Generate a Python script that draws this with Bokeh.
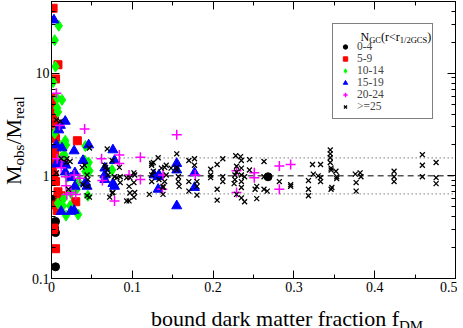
import numpy as np
from bokeh.plotting import figure
from bokeh.layouts import row, column
from bokeh.models import (FixedTicker, LinearAxis, LogAxis, NumeralTickFormatter,
                          Label, Legend, LegendItem, Div)
from bokeh.embed import file_html
from bokeh.resources import INLINE

# ---------------- data ----------------
group_labels = ["0-4", "5-9", "10-14", "15-19", "20-24", ">=25"]

x_0_4 = [0.004, 0.005, 0.004, 0.005, 0.005, 0.268]
y_0_4 = [0.60, 0.36, 0.31, 0.28, 0.13, 0.98]

x_5_9 = [0.002, 0.008, 0.005, 0.001, 0.002, 0.002, 0.002, 0.003, 0.004, 0.005,
         0.032, 0.003, 0.004, 0.004, 0.001, 0.003, 0.005, 0.002, 0.008, 0.012,
         0.010, 0.006, 0.007, 0.030, 0.003, 0.005, 0.002]
y_5_9 = [43, 12.1, 8.8, 5.7, 5.1, 4.4, 3.9, 3.2, 2.6, 2.3,
         2.2, 1.8, 1.6, 1.4, 1.2, 1.02, 0.88, 0.95, 0.70, 0.64,
         0.57, 0.52, 0.46, 0.56, 0.31, 0.195, 0.30]

x_10_14 = [0.009, 0.004, 0.005, 0.002, 0.007, 0.013, 0.007, 0.008, 0.004, 0.017,
           0.018, 0.011, 0.042, 0.012, 0.016, 0.041, 0.046, 0.042, 0.047, 0.075,
           0.033, 0.030, 0.031, 0.024, 0.045, 0.015, 0.008, 0.014, 0.023, 0.018,
           0.033, 0.020]
y_10_14 = [29, 21, 11.6, 8.2, 5.7, 5.5, 4.6, 4.2, 2.6, 2.2,
           2.0, 1.95, 1.95, 1.5, 1.6, 1.41, 1.35, 1.10, 1.12, 1.14,
           0.88, 0.80, 0.74, 0.68, 0.64, 0.60, 0.54, 0.51, 0.51, 0.41,
           0.42, 0.98]

x_15_19 = [0.003, 0.017, 0.011, 0.009, 0.006, 0.013, 0.028, 0.046, 0.076, 0.011,
           0.006, 0.018, 0.039, 0.078, 0.029, 0.017, 0.024, 0.029, 0.044, 0.042,
           0.066, 0.066, 0.066, 0.076, 0.078, 0.028, 0.012, 0.024, 0.132, 0.132,
           0.133, 0.155, 0.155, 0.155, 0.177, 0.177, 0.127]
y_15_19 = [33, 3.4, 3.1, 2.8, 2.0, 1.87, 1.75, 2.0, 1.79, 1.35,
           1.30, 1.27, 1.41, 1.41, 1.07, 1.09, 0.96, 0.79, 0.79, 0.86,
           1.19, 1.02, 0.92, 0.84, 0.79, 0.46, 0.45, 0.45, 0.98, 0.74,
           1.02, 1.32, 1.14, 0.51, 1.07, 0.77, 1.02]

x_20_24 = [0.006, 0.041, 0.010, 0.155, 0.062, 0.084, 0.110, 0.084, 0.096, 0.110,
           0.063, 0.078, 0.024, 0.018, 0.138, 0.137, 0.178, 0.229, 0.229, 0.251,
           0.251, 0.282, 0.296, 0.282, 0.007, 0.013, 0.018, 0.028, 0.019, 0.030,
           0.012, 0.035]
y_20_24 = [6.4, 2.87, 3.1, 2.52, 1.47, 1.6, 1.52, 1.32, 1.02, 0.92,
           0.90, 0.57, 0.69, 0.80, 1.02, 0.74, 1.02, 1.12, 0.69, 1.07,
           0.96, 1.25, 1.29, 0.74, 1.47, 1.41, 0.98, 1.02, 0.66, 0.66,
           1.2, 0.95]

x_25_right = [0.132, 0.142, 0.148, 0.136, 0.140, 0.138, 0.138, 0.155, 0.155, 0.155,
              0.157, 0.157, 0.158, 0.170, 0.177, 0.177, 0.170, 0.170, 0.180, 0.180,
              0.180, 0.197, 0.197, 0.197, 0.205, 0.205, 0.205, 0.212, 0.212, 0.212,
              0.228, 0.229, 0.229, 0.227, 0.227, 0.226, 0.229, 0.234, 0.235, 0.235,
              0.235, 0.239, 0.235, 0.235, 0.235, 0.239, 0.245, 0.245, 0.252, 0.254,
              0.254, 0.263, 0.263, 0.263, 0.267, 0.282, 0.296, 0.296, 0.318, 0.318,
              0.318, 0.323, 0.324, 0.333, 0.333, 0.333, 0.345, 0.345, 0.345, 0.345,
              0.346, 0.346, 0.347, 0.352, 0.353, 0.353, 0.376, 0.377, 0.377, 0.382,
              0.383, 0.424, 0.424, 0.424, 0.459, 0.459, 0.459, 0.476, 0.476, 0.476,
              0.330, 0.346]
y_25_right = [1.50, 1.27, 1.19, 1.19, 0.88, 0.79, 0.66, 1.64, 1.21, 1.14,
              0.98, 0.88, 0.79, 1.41, 1.47, 1.27, 0.88, 0.71, 0.88, 0.79,
              0.65, 1.16, 1.02, 0.96, 1.29, 0.74, 0.58, 1.47, 0.98, 0.88,
              1.57, 1.24, 1.09, 1.02, 0.92, 0.84, 0.66, 1.54, 1.41, 1.19,
              1.02, 0.98, 0.88, 0.77, 0.61, 0.56, 1.44, 1.14, 0.74, 0.79,
              0.60, 1.38, 0.98, 0.74, 0.71, 0.88, 0.82, 0.79, 0.90, 0.74,
              0.64, 1.29, 1.04, 1.29, 0.96, 0.88, 1.79, 1.64, 1.50, 1.35,
              1.19, 1.14, 0.77, 1.11, 0.98, 0.94, 1.04, 0.86, 0.71, 1.07,
              0.98, 1.11, 0.98, 0.88, 1.61, 1.27, 0.98, 1.35, 0.96, 0.84,
              1.00, 0.74]
x_25_left = [0.124, 0.126, 0.124, 0.140, 0.142, 0.102, 0.085, 0.078, 0.075, 0.066,
             0.084, 0.011, 0.069, 0.047, 0.019, 0.012, 0.023, 0.039, 0.044, 0.045,
             0.067, 0.069, 0.070, 0.085, 0.075, 0.072, 0.097, 0.096, 0.097, 0.096,
             0.103, 0.103, 0.124, 0.124, 0.121, 0.041, 0.044, 0.018, 0.006, 0.021,
             0.038, 0.045, 0.047, 0.076, 0.081, 0.093, 0.102, 0.102, 0.093, 0.126,
             0.133, 0.138, 0.006]
y_25_left = [1.27, 1.11, 0.88, 1.21, 1.02, 1.07, 0.98, 0.98, 1.41, 1.27,
             1.21, 3.4, 1.83, 1.87, 1.47, 1.47, 1.38, 0.82, 1.02, 0.92,
             1.21, 1.14, 1.02, 0.86, 0.68, 0.62, 0.96, 0.79, 0.68, 0.57,
             1.02, 0.69, 1.32, 1.02, 0.66, 1.27, 0.64, 1.35, 1.07, 0.74,
             1.21, 0.79, 0.62, 0.69, 0.96, 0.96, 0.86, 0.62, 0.57, 1.35,
             0.92, 0.77, 3.5]
x_25 = x_25_left + x_25_right
y_25 = y_25_left + y_25_right

# reference lines
ref_line_x = [0.02, 0.5]
ref_ratio = 1.0
ref_band = [1.5, 1.0 / 1.5]

x_ticks = [0, 0.1, 0.2, 0.3, 0.4, 0.5]
x_minor = [0.05, 0.15, 0.25, 0.35, 0.45]
y_ticks = [0.1, 1, 10]
y_minor = [0.2, 0.3, 0.4, 0.5, 0.6, 0.7, 0.8, 0.9, 2, 3, 4, 5, 6, 7, 8, 9, 20, 30, 40, 50]

SERIF = "Liberation Serif"

# ---------------- layout sizes ----------------
YLAB_W = 18
XLAB_H = 16
P_W = 447 - YLAB_W
P_H = 312 - XLAB_H

p = figure(width=P_W, height=P_H, y_axis_type="log",
           x_range=(0, 0.5), y_range=(0.1, 50),
           output_backend="svg", toolbar_location=None,
           min_border_left=19, min_border_right=2, min_border_top=1, min_border_bottom=18)
p.xgrid.visible = False
p.ygrid.visible = False
p.outline_line_color = "black"
p.outline_line_width = 1
p.background_fill_color = "white"
p.border_fill_color = "white"


def style_axis(ax, ticks, minor, show_labels):
    ax.ticker = FixedTicker(ticks=ticks, minor_ticks=minor)
    ax.formatter = NumeralTickFormatter(format="0.[0]")
    ax.axis_label = None
    ax.axis_label_standoff = 0
    ax.major_tick_in = 8
    ax.major_tick_out = 0
    ax.minor_tick_in = 4
    ax.minor_tick_out = 0
    ax.axis_line_color = "black"
    ax.major_tick_line_color = "black"
    ax.minor_tick_line_color = "black"
    ax.major_label_text_font = SERIF
    if show_labels:
        ax.major_label_text_color = "black"
        ax.major_label_text_font_size = "14px"
        ax.major_label_standoff = 3
    else:
        # mirror axis: ticks only, no labels drawn
        ax.major_label_text_color = None
        ax.major_label_text_font_size = "0px"
        ax.major_label_standoff = 0


style_axis(p.xaxis[0], x_ticks, x_minor, True)
style_axis(p.yaxis[0], y_ticks, y_minor, True)
p.yaxis[0].major_label_standoff = 2
top_ax = LinearAxis()
style_axis(top_ax, x_ticks, x_minor, False)
p.add_layout(top_ax, "above")
right_ax = LogAxis()
style_axis(right_ax, y_ticks, y_minor, False)
p.add_layout(right_ax, "right")

# reference lines
p.line(ref_line_x, [ref_ratio, ref_ratio], line_color="#555555", line_width=1.5, line_dash="6 4")
for b in ref_band:
    p.line(ref_line_x, [b, b], line_color="#666666", line_width=1.2, line_dash="1 3")

# scatter groups
r0 = p.scatter(x_0_4, y_0_4, marker="circle", size=8, fill_color="black", line_color="black")
r1 = p.scatter(x_5_9, y_5_9, marker="square", size=8, fill_color="red", line_color="red")
r2 = p.scatter(x_10_14, y_10_14, marker="diamond", size=11, fill_color="#00ff00", line_color="#00ff00")
r3 = p.scatter(x_15_19, y_15_19, marker="triangle", size=10, fill_color="blue", line_color="blue")
r4 = p.scatter(x_20_24, y_20_24, marker="cross", size=10, line_color="magenta", line_width=1.5)
r5 = p.scatter(x_25, y_25, marker="x", size=7, line_color="black", line_width=1.3)

items = [LegendItem(label=l, renderers=[r]) for l, r in zip(group_labels, [r0, r1, r2, r3, r4, r5])]
legend = Legend(items=items, location="top_right", margin=22, padding=6, spacing=0,
                glyph_width=12, glyph_height=11, label_height=11, label_width=69,
                label_standoff=6, label_text_font=SERIF, label_text_font_size="11.5px",
                label_text_line_height=1.0,
                border_line_color="black", border_line_width=1,
                background_fill_alpha=0.0,
                title=" ", title_text_font_size="7px", title_standoff=3)
p.add_layout(legend)

# legend title N_GC(r<r_1/2GCS) (screen units, relative to frame bottom-left)
FRAME_H = 269
ty = FRAME_H - 22 - 5
tx = 309


def lab(x, y, text, size):
    p.add_layout(Label(x=x, y=y, x_units="screen", y_units="screen", text=text,
                       text_font=SERIF, text_font_size=size, text_color="black",
                       text_align="left", text_baseline="alphabetic", level="overlay"))


lab(tx, ty, "N", "12px")
lab(tx + 8.7, ty - 3, "GC", "8.5px")
lab(tx + 20.5, ty, "(r<r", "12px")
lab(tx + 39.3, ty - 3, "1/2GCS", "8.5px")
lab(tx + 66.7, ty, ")", "12px")

# ---------------- axis titles as HTML text ----------------
ylab = Div(width=YLAB_W, height=P_H, styles={"overflow": "visible"},
           text=('<div style="writing-mode: vertical-rl; transform: rotate(180deg); '
                 "font-family: 'Liberation Serif'; font-size: 22px; line-height: 18px; "
                 'height: 269px; margin-top: 1px; text-align: center; white-space: nowrap; color: black;">'
                 'M<sub style="font-size:15px; line-height:0">obs</sub>/M'
                 '<sub style="font-size:15px; line-height:0">real</sub></div>'))
xlab = Div(width=447, height=XLAB_H, styles={"overflow": "visible"},
           text=('<div style="font-family: \'Liberation Serif\'; '
                 'font-size: 22px; line-height: 16px; '
                 'padding-left: 146px; white-space: nowrap; color: black;">'
                 'bound dark matter fraction f<sub style="font-size:15px; line-height:0">DM</sub></div>'))

layout = column(row(ylab, p), xlab)

open("out.html", "w").write(file_html(layout, INLINE))
